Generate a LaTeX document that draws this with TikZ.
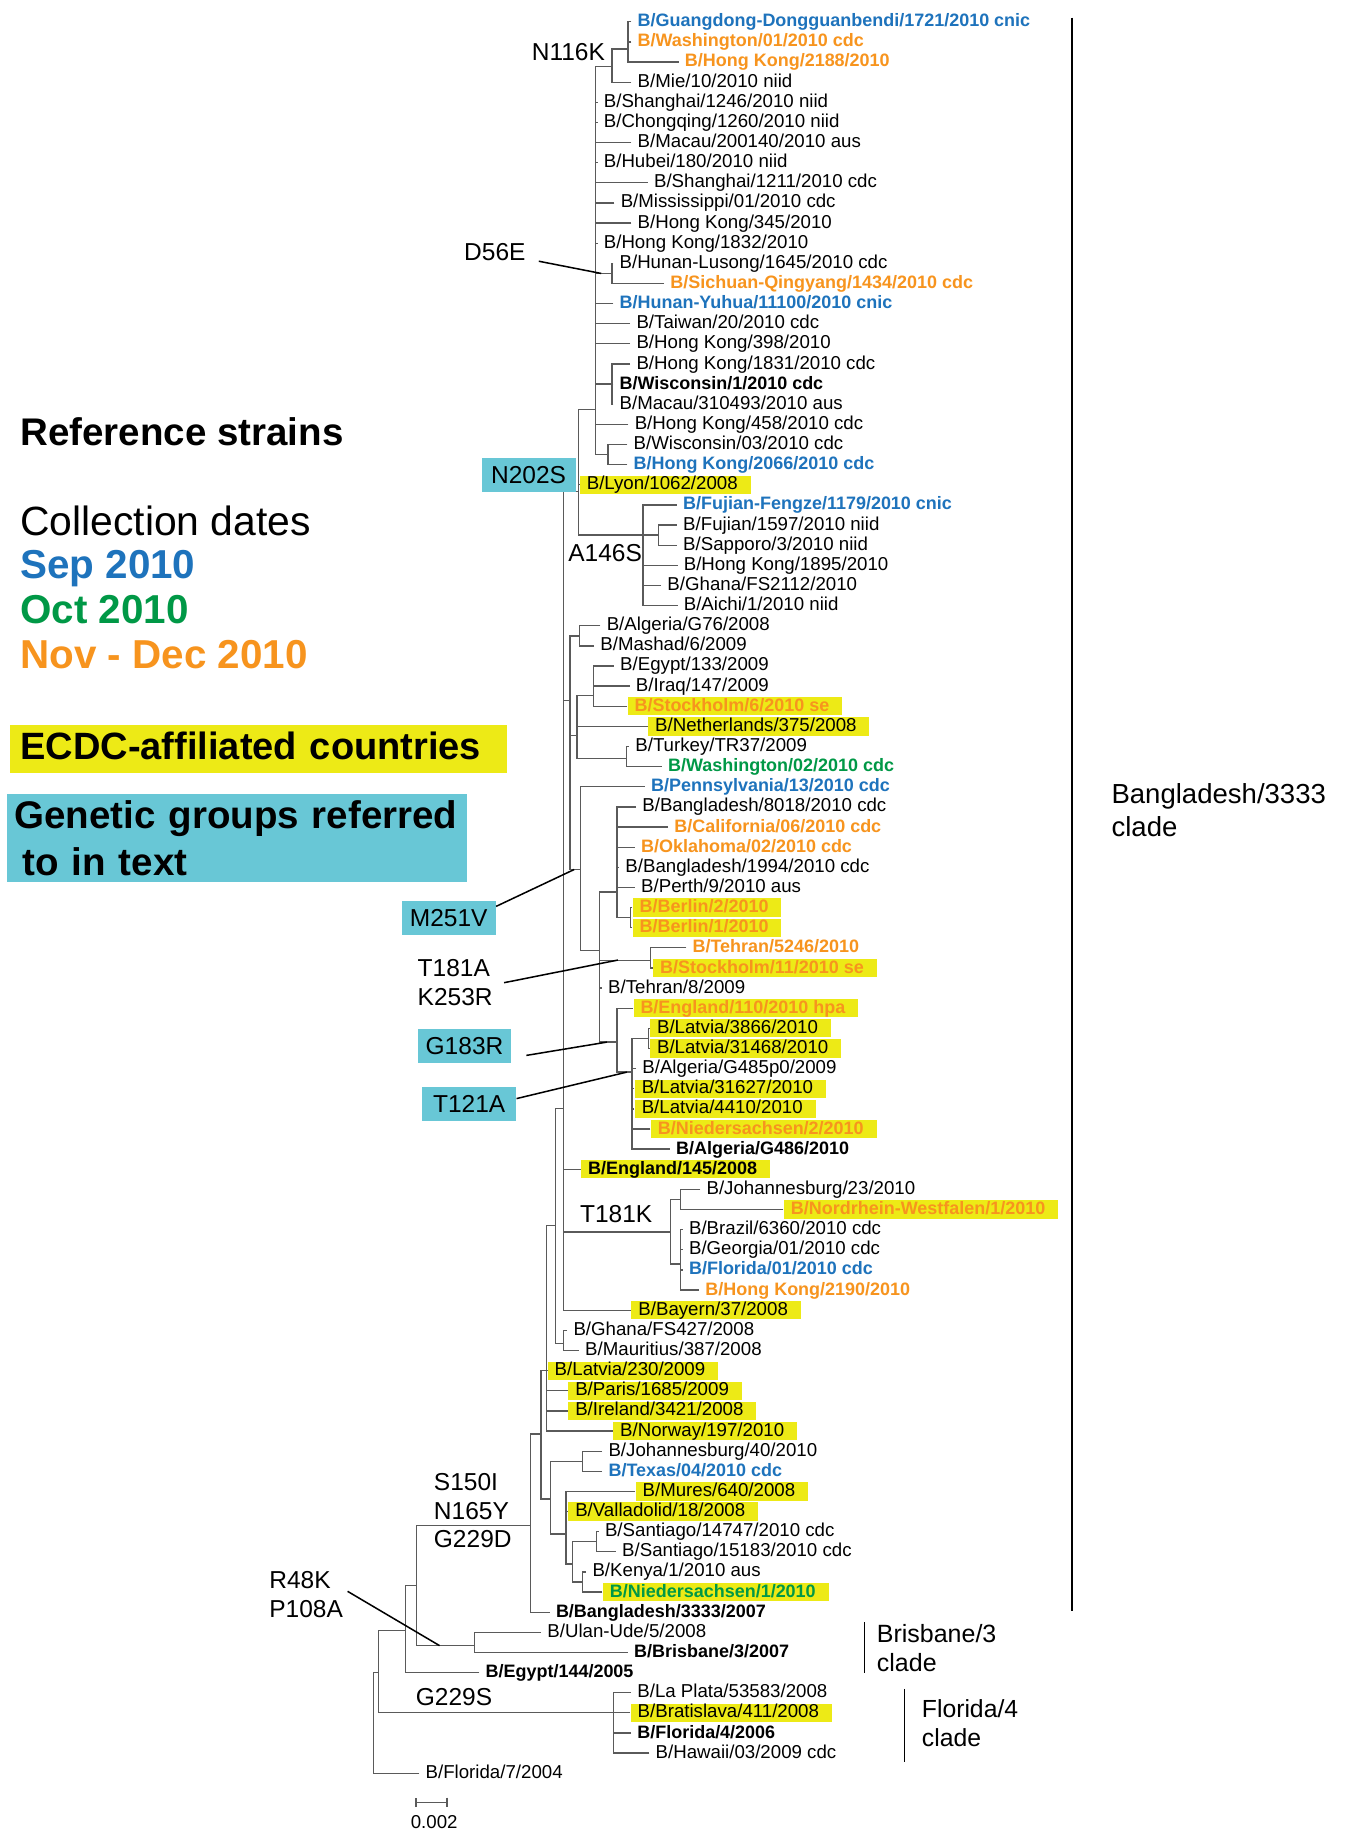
\documentclass[tikz,border=0pt]{standalone}
\usepackage{fontspec}
\setmainfont{Liberation Sans}
\usepackage{tikz}
\usetikzlibrary{arrows.meta}
\definecolor{SepBlue}{RGB}{30,115,188}
\definecolor{OctGreen}{RGB}{0,152,70}
\definecolor{NovOrange}{RGB}{247,148,30}
\definecolor{EcdcYellow}{RGB}{237,234,22}
\definecolor{GroupCyan}{RGB}{104,199,214}
\definecolor{TreeGray}{RGB}{90,90,90}
\tikzstyle{leaf} = [anchor=west, inner xsep=2.5pt, inner ysep=0.25pt, text height=5.8pt, text depth=1.5pt, font=\fontsize{8}{9}\selectfont]
\tikzstyle{bleaf} = [leaf, font=\fontsize{7.7}{9}\selectfont\bfseries]
\tikzstyle{ecdc} = [fill=EcdcYellow, inner xsep=3pt, execute at end node={\hspace*{2.5pt}}]
\tikzstyle{septxt} = [text=SepBlue]
\tikzstyle{octtxt} = [text=OctGreen]
\tikzstyle{novtxt} = [text=NovOrange]
\tikzstyle{mut} = [inner sep=0pt, align=left, font=\fontsize{10.5}{12.3}\selectfont]
\tikzstyle{grpbox} = [mut, align=center, fill=GroupCyan, minimum width=40.2pt, minimum height=14.7pt]
\tikzstyle{legendtxt} = [anchor=west, inner sep=0pt, text depth=0pt, font=\fontsize{16.5}{20}\selectfont\bfseries]
\tikzstyle{datetxt} = [legendtxt, font=\fontsize{17.3}{20}\selectfont\bfseries]
\tikzstyle{cladelab} = [anchor=west, inner sep=0pt, align=left, font=\fontsize{10.7}{12.2}\selectfont]
\tikzstyle{treeline} = [draw=TreeGray, line width=0.55pt]
\tikzstyle{pointer} = [draw=black, line width=0.65pt]
\tikzstyle{cladebar} = [draw=black, line width=0.65pt]

\begin{document}
\begin{tikzpicture}[x=0.5pt, y=-0.5pt]
	\fill[white] (0,0) rectangle (1152,1568);
	\useasboundingbox (0,0) rectangle (1152,1568);

	% LEGEND
	\node (refS) [legendtxt] at (17,370) {Reference strains};
	\node (colD) [legendtxt, font=\fontsize{17.5}{20}\selectfont] at (17,446) {Collection dates};
	\node (sepL) [datetxt, septxt] at (17,484) {Sep 2010};
	\node (octL) [datetxt, octtxt] at (17,522) {Oct 2010};
	\node (novL) [datetxt, novtxt] at (17,561) {Nov - Dec 2010};
	\node (ecdcL) [legendtxt, anchor=north west, fill=EcdcYellow, text width=204pt, inner xsep=4.5pt, inner ysep=0pt, minimum height=20.5pt, text depth=3pt, font=\fontsize{16.3}{20}\selectfont\bfseries] at (8,621) {ECDC-affiliated countries};
	\node (genL) [anchor=north west, fill=GroupCyan, text width=191pt, align=left, inner xsep=3pt, inner ysep=2.75pt, font=\fontsize{16.5}{20}\selectfont\bfseries] at (6,680) {Genetic groups referred\\\hspace*{3.5pt}to in text};

	% LEAVES
	\node (l1) [bleaf, septxt] at (541,18.6) {B/Guangdong-Dongguanbendi/1721/2010 cnic};
	\node (l2) [bleaf, novtxt] at (541,35.9) {B/Washington/01/2010 cdc};
	\node (l3) [bleaf, novtxt] at (581.5,53.1) {B/Hong Kong/2188/2010};
	\node (l4) [leaf] at (541,70.4) {B/Mie/10/2010 niid};
	\node (l5) [leaf] at (512,87.6) {B/Shanghai/1246/2010 niid};
	\node (l6) [leaf] at (512,104.9) {B/Chongqing/1260/2010 niid};
	\node (l7) [leaf] at (541,122.1) {B/Macau/200140/2010 aus};
	\node (l8) [leaf] at (512,139.4) {B/Hubei/180/2010 niid};
	\node (l9) [leaf] at (555,156.6) {B/Shanghai/1211/2010 cdc};
	\node (l10) [leaf] at (526.5,173.9) {B/Mississippi/01/2010 cdc};
	\node (l11) [leaf] at (541,191.1) {B/Hong Kong/345/2010};
	\node (l12) [leaf] at (512,208.4) {B/Hong Kong/1832/2010};
	\node (l13) [leaf] at (525.5,225.6) {B/Hunan-Lusong/1645/2010 cdc};
	\node (l14) [bleaf, novtxt] at (569,242.9) {B/Sichuan-Qingyang/1434/2010 cdc};
	\node (l15) [bleaf, septxt] at (525.5,260.1) {B/Hunan-Yuhua/11100/2010 cnic};
	\node (l16) [leaf] at (540,277.4) {B/Taiwan/20/2010 cdc};
	\node (l17) [leaf] at (540,294.6) {B/Hong Kong/398/2010};
	\node (l18) [leaf] at (540,311.9) {B/Hong Kong/1831/2010 cdc};
	\node (l19) [bleaf] at (525.5,329.1) {B/Wisconsin/1/2010 cdc};
	\node (l20) [leaf] at (525.5,346.4) {B/Macau/310493/2010 aus};
	\node (l21) [leaf] at (538.5,363.6) {B/Hong Kong/458/2010 cdc};
	\node (l22) [leaf] at (537.5,380.9) {B/Wisconsin/03/2010 cdc};
	\node (l23) [bleaf, septxt] at (537.5,398.1) {B/Hong Kong/2066/2010 cdc};
	\node (l24) [leaf, ecdc] at (496.4,415.4) {B/Lyon/1062/2008};
	\node (l25) [bleaf, septxt] at (580,432.6) {B/Fujian-Fengze/1179/2010 cnic};
	\node (l26) [leaf] at (580,449.9) {B/Fujian/1597/2010 niid};
	\node (l27) [leaf] at (580,467.1) {B/Sapporo/3/2010 niid};
	\node (l28) [leaf] at (580.5,484.4) {B/Hong Kong/1895/2010};
	\node (l29) [leaf] at (566.5,501.6) {B/Ghana/FS2112/2010};
	\node (l30) [leaf] at (580.5,518.9) {B/Aichi/1/2010 niid};
	\node (l31) [leaf] at (514.5,536.1) {B/Algeria/G76/2008};
	\node (l32) [leaf] at (509,553.4) {B/Mashad/6/2009};
	\node (l33) [leaf] at (526,570.6) {B/Egypt/133/2009};
	\node (l34) [leaf] at (539.5,587.9) {B/Iraq/147/2009};
	\node (l35) [bleaf, ecdc, novtxt] at (537.3,605.1) {B/Stockholm/6/2010 se};
	\node (l36) [leaf, ecdc] at (555,622.4) {B/Netherlands/375/2008};
	\node (l37) [leaf] at (539,639.6) {B/Turkey/TR37/2009};
	\node (l38) [bleaf, octtxt] at (567,656.9) {B/Washington/02/2010 cdc};
	\node (l39) [bleaf, septxt] at (552.5,674.1) {B/Pennsylvania/13/2010 cdc};
	\node (l40) [leaf] at (545,691.4) {B/Bangladesh/8018/2010 cdc};
	\node (l41) [bleaf, novtxt] at (572.5,708.6) {B/California/06/2010 cdc};
	\node (l42) [bleaf, novtxt] at (544,725.9) {B/Oklahoma/02/2010 cdc};
	\node (l43) [leaf] at (530.5,743.1) {B/Bangladesh/1994/2010 cdc};
	\node (l44) [leaf] at (544,760.4) {B/Perth/9/2010 aus};
	\node (l45) [bleaf, ecdc, novtxt] at (541.7,777.6) {B/Berlin/2/2010};
	\node (l46) [bleaf, ecdc, novtxt] at (541.7,794.9) {B/Berlin/1/2010};
	\node (l47) [bleaf, novtxt] at (588,812.1) {B/Tehran/5246/2010};
	\node (l48) [bleaf, ecdc, novtxt] at (559.2,829.4) {B/Stockholm/11/2010 se};
	\node (l49) [leaf] at (515.7,846.6) {B/Tehran/8/2009};
	\node (l50) [bleaf, ecdc, novtxt] at (542.4,863.9) {B/England/110/2010 hpa};
	\node (l51) [leaf, ecdc] at (556.6,881.1) {B/Latvia/3866/2010};
	\node (l52) [leaf, ecdc] at (556.6,898.4) {B/Latvia/31468/2010};
	\node (l53) [leaf] at (545,915.6) {B/Algeria/G485p0/2009};
	\node (l54) [leaf, ecdc] at (543.5,932.9) {B/Latvia/31627/2010};
	\node (l55) [leaf, ecdc] at (543.5,950.1) {B/Latvia/4410/2010};
	\node (l56) [bleaf, ecdc, novtxt] at (557.3,967.4) {B/Niedersachsen/2/2010};
	\node (l57) [bleaf] at (574,984.6) {B/Algeria/G486/2010};
	\node (l58) [bleaf, ecdc] at (497.6,1001.9) {B/England/145/2008};
	\node (l59) [leaf] at (600,1019.1) {B/Johannesburg/23/2010};
	\node (l60) [bleaf, ecdc, novtxt] at (671.3,1036.4) {B/Nordrhein-Westfalen/1/2010};
	\node (l61) [leaf] at (585,1053.6) {B/Brazil/6360/2010 cdc};
	\node (l62) [leaf] at (585,1070.9) {B/Georgia/01/2010 cdc};
	\node (l63) [bleaf, septxt] at (585,1088.1) {B/Florida/01/2010 cdc};
	\node (l64) [bleaf, novtxt] at (599,1105.4) {B/Hong Kong/2190/2010};
	\node (l65) [leaf, ecdc] at (540.6,1122.6) {B/Bayern/37/2008};
	\node (l66) [leaf] at (486,1139.9) {B/Ghana/FS427/2008};
	\node (l67) [leaf] at (496,1157.1) {B/Mauritius/387/2008};
	\node (l68) [leaf, ecdc] at (468.9,1174.4) {B/Latvia/230/2009};
	\node (l69) [leaf, ecdc] at (486.5,1191.6) {B/Paris/1685/2009};
	\node (l70) [leaf, ecdc] at (486.5,1208.9) {B/Ireland/3421/2008};
	\node (l71) [leaf, ecdc] at (525,1226.1) {B/Norway/197/2010};
	\node (l72) [leaf] at (516,1243.4) {B/Johannesburg/40/2010};
	\node (l73) [bleaf, septxt] at (516,1260.6) {B/Texas/04/2010 cdc};
	\node (l74) [leaf, ecdc] at (544.2,1277.9) {B/Mures/640/2008};
	\node (l75) [leaf, ecdc] at (486.5,1295.1) {B/Valladolid/18/2008};
	\node (l76) [leaf] at (513,1312.4) {B/Santiago/14747/2010 cdc};
	\node (l77) [leaf] at (527.7,1329.6) {B/Santiago/15183/2010 cdc};
	\node (l78) [leaf] at (502.3,1346.9) {B/Kenya/1/2010 aus};
	\node (l79) [bleaf, ecdc, octtxt] at (516.2,1364.1) {B/Niedersachsen/1/2010};
	\node (l80) [bleaf] at (471,1381.4) {B/Bangladesh/3333/2007};
	\node (l81) [leaf] at (463.6,1398.6) {B/Ulan-Ude/5/2008};
	\node (l82) [bleaf] at (538,1415.9) {B/Brisbane/3/2007};
	\node (l83) [bleaf] at (410.7,1433.1) {B/Egypt/144/2005};
	\node (l84) [leaf] at (540.7,1450.4) {B/La Plata/53583/2008};
	\node (l85) [leaf, ecdc] at (540,1467.6) {B/Bratislava/411/2008};
	\node (l86) [bleaf] at (540.7,1484.9) {B/Florida/4/2006};
	\node (l87) [leaf] at (556.4,1502.1) {B/Hawaii/03/2009 cdc};
	\node (l88) [leaf] at (359.3,1519.4) {B/Florida/7/2004};

	% INNER NODES
	\coordinate (n116a) at (538,42);
	\coordinate (n116) at (524.3,57);
	\coordinate (nD56) at (524.3,234.3);
	\coordinate (nWis) at (524.3,329);
	\coordinate (nWis3) at (521,389.5);
	\coordinate (cD) at (510.5,351);
	\coordinate (nFS) at (564.5,458.5);
	\coordinate (cA146) at (551,458.5);
	\coordinate (cN202) at (495.7,421.4);
	\coordinate (nAlg) at (496.6,545);
	\coordinate (nEgI) at (508.6,596);
	\coordinate (nTur) at (536.6,650);
	\coordinate (nEg) at (494.3,630);
	\coordinate (nBer) at (540,786);
	\coordinate (nBang) at (528.6,764.3);
	\coordinate (cT181A) at (557.1,822.9);
	\coordinate (nLat) at (555.7,889.7);
	\coordinate (cT121) at (541.4,918.6);
	\coordinate (cG183) at (528.6,892.9);
	\coordinate (cM2) at (513.7,814.3);
	\coordinate (cM251) at (497.2,745);
	\coordinate (cB) at (488.5,600);
	\coordinate (nJo) at (582.9,1027.7);
	\coordinate (nBr) at (582.9,1083);
	\coordinate (cT181K) at (574.7,1055.7);
	\coordinate (cA) at (482.7,950);
	\coordinate (nGh) at (482.7,1151.4);
	\coordinate (cC) at (475.7,1050);
	\coordinate (cDn) at (468.3,1174.4);
	\coordinate (nJo40) at (499.4,1252);
	\coordinate (nSan) at (510.9,1321);
	\coordinate (nKen) at (499.4,1355.5);
	\coordinate (nH) at (490.6,1340);
	\coordinate (nG) at (484.9,1314.3);
	\coordinate (nF) at (471.4,1284.3);
	\coordinate (nE) at (463.5,1228.6);
	\coordinate (cS150) at (454.5,1307.1);
	\coordinate (nBris) at (406.6,1410);
	\coordinate (cR48) at (357.1,1358.6);
	\coordinate (nEgy) at (347.7,1397.1);
	\coordinate (nFl4) at (525.7,1467.6);
	\coordinate (nBase) at (324.3,1432.9);
	\coordinate (nRoot) at (320,1476);

	% TREE
	\draw[treeline] (l1.west) -| (n116a) (l2.west) -| (n116a) (l3.west) -| (n116a);
	\draw[treeline] (n116a) -| (n116) (l4.west) -| (n116);
	\draw[treeline] (l13.west) -| (nD56) (l14.west) -| (nD56);
	\draw[treeline] (l18.west) -| (nWis) (l19.west) -| (nWis) (l20.west) -| (nWis);
	\draw[treeline] (l22.west) -| (nWis3) (l23.west) -| (nWis3);
	\draw[treeline] (n116) -| (cD) (l5.west) -| (cD) (l6.west) -| (cD) (l7.west) -| (cD) (l8.west) -| (cD) (l9.west) -| (cD) (l10.west) -| (cD) (l11.west) -| (cD) (l12.west) -| (cD) (nD56) -| (cD) (l15.west) -| (cD) (l16.west) -| (cD) (l17.west) -| (cD) (nWis) -| (cD) (l21.west) -| (cD) (nWis3) -| (cD);
	\draw[treeline] (l26.west) -| (nFS) (l27.west) -| (nFS);
	\draw[treeline] (l25.west) -| (cA146) (nFS) -| (cA146) (l28.west) -| (cA146) (l29.west) -| (cA146) (l30.west) -| (cA146);
	\draw[treeline] (cD) -| (cN202) (l24.west) -| (cN202) (cA146) -| (cN202);
	\draw[treeline] (l31.west) -| (nAlg) (l32.west) -| (nAlg);
	\draw[treeline] (l33.west) -| (nEgI) (l34.west) -| (nEgI) (l35.west) -| (nEgI);
	\draw[treeline] (l37.west) -| (nTur) (l38.west) -| (nTur);
	\draw[treeline] (nEgI) -| (nEg) (l36.west) -| (nEg) (nTur) -| (nEg);
	\draw[treeline] (l45.west) -| (nBer) (l46.west) -| (nBer);
	\draw[treeline] (l40.west) -| (nBang) (l41.west) -| (nBang) (l42.west) -| (nBang) (l43.west) -| (nBang) (l44.west) -| (nBang) (nBer) -| (nBang);
	\draw[treeline] (l47.west) -| (cT181A) (l48.west) -| (cT181A);
	\draw[treeline] (l51.west) -| (nLat) (l52.west) -| (nLat);
	\draw[treeline] (nLat) -| (cT121) (l53.west) -| (cT121) (l54.west) -| (cT121) (l55.west) -| (cT121) (l56.west) -| (cT121) (l57.west) -| (cT121);
	\draw[treeline] (l50.west) -| (cG183) (cT121) -| (cG183);
	\draw[treeline] (nBang) -| (cM2) (cT181A) -| (cM2) (l49.west) -| (cM2) (cG183) -| (cM2);
	\draw[treeline] (l39.west) -| (cM251) (cM2) -| (cM251);
	\draw[treeline] (nAlg) -| (cB) (nEg) -| (cB) (cM251) -| (cB);
	\draw[treeline] (l59.west) -| (nJo) (l60.west) -| (nJo);
	\draw[treeline] (l61.west) -| (nBr) (l62.west) -| (nBr) (l63.west) -| (nBr) (l64.west) -| (nBr);
	\draw[treeline] (nJo) -| (cT181K) (nBr) -| (cT181K);
	\draw[treeline] (cN202) -| (cA) (cB) -| (cA) (l58.west) -| (cA) (cT181K) -| (cA) (l65.west) -| (cA);
	\draw[treeline] (l66.west) -| (nGh) (l67.west) -| (nGh);
	\draw[treeline] (cA) -| (cC) (nGh) -| (cC);
	\draw[treeline] (cC) -| (cDn) (l68.west) -| (cDn) (l69.west) -| (cDn) (l70.west) -| (cDn) (l71.west) -| (cDn);
	\draw[treeline] (l72.west) -| (nJo40) (l73.west) -| (nJo40);
	\draw[treeline] (l76.west) -| (nSan) (l77.west) -| (nSan);
	\draw[treeline] (l78.west) -| (nKen) (l79.west) -| (nKen);
	\draw[treeline] (nSan) -| (nH) (nKen) -| (nH);
	\draw[treeline] (l74.west) -| (nG) (l75.west) -| (nG) (nH) -| (nG);
	\draw[treeline] (nJo40) -| (nF) (nG) -| (nF);
	\draw[treeline] (cDn) -| (nE) (nF) -| (nE);
	\draw[treeline] (nE) -| (cS150) (l80.west) -| (cS150);
	\draw[treeline] (l81.west) -| (nBris) (l82.west) -| (nBris);
	\draw[treeline] (cS150) -| (cR48) (nBris) -| (cR48);
	\draw[treeline] (cR48) -| (nEgy) (l83.west) -| (nEgy);
	\draw[treeline] (l84.west) -| (nFl4) (l85.west) -| (nFl4) (l86.west) -| (nFl4) (l87.west) -| (nFl4);
	\draw[treeline] (nEgy) -| (nBase) (nFl4) -| (nBase);
	\draw[treeline] (nBase) -| (nRoot) (l88.west) -| (nRoot);

	% MUTATIONS
	\node (N116K) [mut] at (487,45) {N116K};
	\node (D56E) [mut] at (424,216) {D56E};
	\node (A146S) [mut] at (518.5,474.3) {A146S};
	\node (T181K) [mut] at (528,1040) {T181K};
	\node (G229S) [mut] at (389,1454) {G229S};
	\node (T181A) [mut, anchor=west] at (357.5,842) {T181A\\K253R};
	\node (S150I) [mut, anchor=west] at (371.4,1294.5) {S150I\\N165Y\\G229D};
	\node (R48K) [mut, anchor=west] at (230.4,1366.5) {R48K\\P108A};
	\node (N202S) [grpbox] at (452.9,407.2) {N202S};
	\node (M251V) [grpbox] at (384.5,786.7) {M251V};
	\node (G183R) [grpbox] at (398,896.1) {G183R};
	\node (T121A) [grpbox] at (402,945.7) {T121A};

	\coordinate (d56tip) at (515.1,234.3);
	\coordinate (m251tip) at (492,745);
	\coordinate (t181atip) at (529.4,822.6);
	\coordinate (g183tip) at (520,892.9);
	\coordinate (t121tip) at (537.1,918.6);
	\coordinate (r48tip) at (376.6,1410);
	\draw[pointer] ([xshift=5.5pt]D56E.south east) -- (d56tip);
	\draw[pointer] ([yshift=-2.5pt]M251V.north east) -- (m251tip);
	\draw[pointer] ([xshift=4.7pt]T181A.east) -- (t181atip);
	\draw[pointer] ([shift={(6.2pt,-4.1pt)}]G183R.east) -- (g183tip);
	\draw[pointer] ([yshift=2.2pt]T121A.east) -- (t121tip);
	\draw[pointer] ([shift={(1.8pt,1.5pt)}]R48K.east) -- (r48tip);

	% CLADES
	\coordinate (bangTop) at (918.3,15);
	\coordinate (bangBot) at (918.3,1380);
	\coordinate (brisTop) at (740.6,1390);
	\coordinate (brisBot) at (740.6,1433.7);
	\coordinate (flTop) at (774.8,1447);
	\coordinate (flBot) at (774.8,1510);
	\draw[cladebar] (bangTop) -- (bangBot);
	\draw[cladebar] (brisTop) -- (brisBot);
	\draw[cladebar] (flTop) -- (flBot);
	\node (bangLab) [cladelab, font=\fontsize{11.8}{14}\selectfont] at (952,694) {Bangladesh/3333\\clade};
	\node (brisLab) [cladelab] at (751,1412) {Brisbane/3\\clade};
	\node (flLab) [cladelab, font=\fontsize{10.6}{12.4}\selectfont] at (789.5,1476.7) {Florida/4\\clade};

	% SCALE
	\coordinate (sbL) at (356,1544.3);
	\coordinate (sbR) at (383.6,1544.3);
	\draw[treeline, {Bar[width=4pt]}-{Bar[width=4pt]}] (sbL) -- (sbR);
	\node (sbLab) [inner sep=0pt, font=\fontsize{8}{9}\selectfont] at (372,1561) {0.002};
\end{tikzpicture}
\end{document}
